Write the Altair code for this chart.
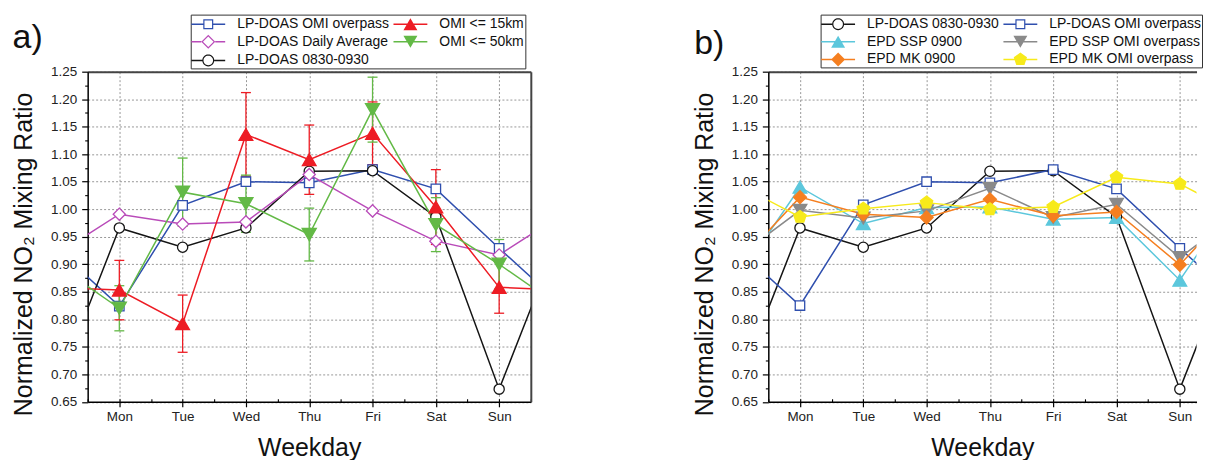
import json
import math
import altair as alt
import pandas as pd

FONT = "Liberation Sans"
NBSP = "\u00a0"

# ---------------- data ----------------
DAYS = ["Mon", "Tue", "Wed", "Thu", "Fri", "Sat", "Sun"]
Y_TICKS = [0.65, 0.70, 0.75, 0.80, 0.85, 0.90, 0.95, 1.00, 1.05, 1.10, 1.15, 1.20, 1.25]
Y_TITLE = "Normalized NO\u2082 Mixing Ratio"
X_TITLE = "Weekday"

# panel a
A_NAMES = ["LP-DOAS OMI overpass", "OMI <= 15km", "LP-DOAS Daily Average",
           "OMI <= 50km", "LP-DOAS 0830-0930"]
a_lp_omi = [0.824, 1.007, 1.050, 1.048, 1.072, 1.037, 0.929]
a_omi15 = [0.853, 0.792, 1.136, 1.090, 1.138, 1.004, 0.858]
a_lp_daily = [0.991, 0.973, 0.977, 1.063, 0.997, 0.942, 0.917]
a_omi50 = [0.820, 1.031, 1.010, 0.954, 1.181, 0.972, 0.900]
a_lp_0830 = [0.966, 0.931, 0.966, 1.069, 1.070, 0.986, 0.673]
a_omi15_err = [0.054, 0.052, 0.076, 0.063, 0.057, 0.068, 0.047]
a_omi50_err = [0.041, 0.062, 0.052, 0.048, 0.059, 0.049, 0.045]

# panel b
B_NAMES = ["LP-DOAS 0830-0930", "LP-DOAS OMI overpass", "EPD SSP 0900",
           "EPD SSP OMI overpass", "EPD MK 0900", "EPD MK OMI overpass"]
b_lp_0830 = [0.966, 0.931, 0.966, 1.069, 1.070, 0.986, 0.673]
b_lp_omi = [0.825, 1.008, 1.050, 1.048, 1.072, 1.037, 0.929]
b_ssp_0900 = [1.040, 0.974, 1.003, 1.004, 0.982, 0.985, 0.871]
b_ssp_omi = [0.998, 0.984, 0.997, 1.038, 0.985, 1.009, 0.912]
b_mk_0900 = [1.022, 0.991, 0.985, 1.018, 0.988, 0.995, 0.899]
b_mk_omi = [0.986, 1.001, 1.012, 1.000, 1.004, 1.058, 1.046]

# ---------------- styles ----------------
BLUE = "#2f4fae"
MAGENTA = "#b94bb9"
BLACK = "#151515"
RED = "#ed1c24"
GREEN = "#63b946"
CYAN = "#5cc7dc"
GRAY = "#8a8a8a"
ORANGE = "#f57f20"
YELLOW = "#f7ea1a"

PENTAGON = "M0,-1L0.951,-0.309L0.588,0.809L-0.588,0.809L-0.951,-0.309Z"

# legend symbols (line stub + marker), drawn as filled paths
S = 9.0
HALF = 17.0
LT = 0.75


def _pt(x, y):
    return f"{x / S:.3f},{y / S:.3f}"


def _poly(points):
    return "M" + "L".join(_pt(x, y) for x, y in points) + "Z"


def _rect(x1, y1, x2, y2):
    return _poly([(x1, y1), (x2, y1), (x2, y2), (x1, y2)])


def _stubs(m):
    return _rect(-HALF, -LT, -m, LT) + _rect(m, -LT, HALF, LT)


def _full():
    return _rect(-HALF, -LT, HALF, LT)


def _ring(outer, inner):
    return _poly(outer) + _poly(list(reversed(inner)))


def _sq(h):
    return [(-h, -h), (h, -h), (h, h), (-h, h)]


def _dia(h):
    return [(0, -h), (h, 0), (0, h), (-h, 0)]


def _circ(r, n=28):
    return [(r * math.cos(2 * math.pi * i / n), r * math.sin(2 * math.pi * i / n)) for i in range(n)]


def _pent(r):
    return [(r * math.cos(math.radians(a)), r * math.sin(math.radians(a))) for a in (-90, -18, 54, 126, 198)]


LEG_OPEN_SQUARE = _stubs(5) + _ring(_sq(5), _sq(3.8))
LEG_OPEN_DIAMOND = _stubs(7) + _ring(_dia(7), _dia(5.3))
LEG_OPEN_CIRCLE = _stubs(6) + _ring(_circ(6), _circ(4.8))
LEG_TRI_UP = _full() + _poly([(0, -6), (7, 6), (-7, 6)])
LEG_TRI_DOWN = _full() + _poly([(-7, -6), (7, -6), (0, 6)])
LEG_DIAMOND = _full() + _poly(_dia(7))
LEG_PENT = _full() + _poly(_pent(7))

STYLE = {
    "LP-DOAS OMI overpass": dict(color=BLUE, fill="white", shape="square", size=90, leg=LEG_OPEN_SQUARE),
    "OMI <= 15km": dict(color=RED, fill=RED, shape="triangle-up", size=190, leg=LEG_TRI_UP),
    "LP-DOAS Daily Average": dict(color=MAGENTA, fill="white", shape="diamond", size=150, leg=LEG_OPEN_DIAMOND),
    "OMI <= 50km": dict(color=GREEN, fill=GREEN, shape="triangle-down", size=200, leg=LEG_TRI_DOWN),
    "LP-DOAS 0830-0930": dict(color=BLACK, fill="white", shape="circle", size=105, leg=LEG_OPEN_CIRCLE),
    "EPD SSP 0900": dict(color=CYAN, fill=CYAN, shape="triangle-up", size=190, leg=LEG_TRI_UP),
    "EPD SSP OMI overpass": dict(color=GRAY, fill=GRAY, shape="triangle-down", size=190, leg=LEG_TRI_DOWN),
    "EPD MK 0900": dict(color=ORANGE, fill=ORANGE, shape="diamond", size=170, leg=LEG_DIAMOND),
    "EPD MK OMI overpass": dict(color=YELLOW, fill=YELLOW, shape=PENTAGON, size=170, leg=LEG_PENT),
}

H = 331.5
PX_PER_DAY = 63.57

X_MINOR = [0.5 + 0.5 * i for i in range(15)]
Y_MINOR = [round(0.675 + 0.05 * i, 3) for i in range(12)]

LABEL_EXPR = json.dumps(DAYS) + "[datum.value - 1]"
YS = alt.Scale(domain=[0.65, 1.25], nice=False, zero=False)


def x_main_axis():
    return alt.Axis(values=[1, 2, 3, 4, 5, 6, 7], labelExpr=LABEL_EXPR, grid=True,
                    gridDash=[2, 2], gridColor="#8c8c8c", gridWidth=0.9,
                    tickSize=5, tickColor="black", tickWidth=1.2,
                    domainColor="black", domainWidth=1.5,
                    labelFont=FONT, labelFontSize=13.5, labelColor="#222", labelPadding=3,
                    labelFlush=False, labelOverlap=False,
                    titleFont=FONT, titleFontSize=25, titleFontWeight="normal", titleColor="#111",
                    titleBaseline="alphabetic", titleY=54, orient="bottom")


def y_main_axis():
    return alt.Axis(values=Y_TICKS, format=".2f", grid=True,
                    gridDash=[2, 2], gridColor="#8c8c8c", gridWidth=0.9,
                    tickSize=6, tickColor="black", tickWidth=1.2,
                    domainColor="black", domainWidth=1.5,
                    labelFont=FONT, labelFontSize=13.5, labelColor="#222", labelPadding=5,
                    labelFlush=False, labelOverlap=False,
                    titleFont=FONT, titleFontSize=25, titleFontWeight="normal", titleColor="#111",
                    titleAngle=270, titleAlign="center", titleBaseline="alphabetic",
                    titleX=-56, titleY=183, orient="left")


def x_minor_axis():
    return alt.Axis(values=X_MINOR, labels=False, grid=False, domain=False, title=None,
                    tickSize=3, tickColor="black", tickWidth=1.1, offset=-3, orient="bottom")


def y_minor_axis():
    return alt.Axis(values=Y_MINOR, labels=False, grid=False, domain=False, title=None,
                    tickSize=3, tickColor="black", tickWidth=1.1, orient="left")


def frame_axis(orient):
    return alt.Axis(orient=orient, labels=False, ticks=False, grid=False, domain=True,
                    domainColor="#444", domainWidth=2, title=None)


def make_panel(names, values, errs, draw_order, x_max, right_frame,
               legend_x, pad_label, pad_n, tag, tag_x, tag_y):
    colors = [STYLE[n]["color"] for n in names]
    fills = [STYLE[n]["fill"] for n in names]
    shapes = [STYLE[n]["shape"] for n in names]
    sizes = [STYLE[n]["size"] for n in names]
    legs = [STYLE[n]["leg"] for n in names]

    xs = alt.Scale(domain=[0.5, x_max], nice=False, zero=False)
    width = round((x_max - 0.5) * PX_PER_DAY, 1)

    line_rows, pt_rows, err_rows, cap_rows = [], [], [], []
    for n in draw_order:
        v = values[n]
        line_rows.append({"series": n, "x": 0, "y": v[6]})
        for i, val in enumerate(v):
            line_rows.append({"series": n, "x": i + 1, "y": val})
            pt_rows.append({"series": n, "x": i + 1, "y": val})
        line_rows.append({"series": n, "x": 8, "y": v[0]})
    for n, e in errs.items():
        v = values[n]
        for i in range(7):
            err_rows.append({"series": n, "x": i + 1, "lo": v[i] - e[i], "hi": v[i] + e[i]})
            cap_rows.append({"series": n, "x": i + 1, "y": v[i] - e[i]})
            cap_rows.append({"series": n, "x": i + 1, "y": v[i] + e[i]})

    line_df = pd.DataFrame(line_rows)
    pt_df = pd.DataFrame(pt_rows)

    def cscale():
        return alt.Scale(domain=names, range=colors)

    lines = alt.Chart(line_df).mark_line(clip=True, strokeWidth=1.5).encode(
        x=alt.X("x:Q", scale=xs, axis=x_main_axis(), title=X_TITLE),
        y=alt.Y("y:Q", scale=YS, axis=y_main_axis(), title=Y_TITLE),
        color=alt.Color("series:N", scale=cscale(), legend=None),
    )
    layers = [lines]

    if err_rows:
        err_df = pd.DataFrame(err_rows)
        cap_df = pd.DataFrame(cap_rows)
        rules = alt.Chart(err_df).mark_rule(strokeWidth=1.3).encode(
            x=alt.X("x:Q", scale=xs, axis=None),
            y=alt.Y("lo:Q", scale=YS, axis=None),
            y2="hi:Q",
            color=alt.Color("series:N", scale=cscale(), legend=None),
        )
        caps = alt.Chart(cap_df).mark_tick(orient="horizontal", size=10, thickness=1.3, opacity=1).encode(
            x=alt.X("x:Q", scale=xs, axis=None),
            y=alt.Y("y:Q", scale=YS, axis=None),
            color=alt.Color("series:N", scale=cscale(), legend=None),
        )
        layers += [rules, caps]

    points = alt.Chart(pt_df).mark_point(opacity=1, strokeWidth=1.3).encode(
        x=alt.X("x:Q", scale=xs, axis=frame_axis("top")),
        y=alt.Y("y:Q", scale=YS, axis=frame_axis("right") if right_frame else None),
        stroke=alt.Stroke("series:N", scale=cscale(), legend=None),
        fill=alt.Fill("series:N", scale=alt.Scale(domain=names, range=fills), legend=None),
        shape=alt.Shape("series:N", scale=alt.Scale(domain=names, range=shapes), legend=None),
        size=alt.Size("series:N", scale=alt.Scale(type="ordinal", domain=names, range=sizes), legend=None),
    )
    layers.append(points)

    label_expr = (f"datum.label == {json.dumps(pad_label)} ? datum.label + '{NBSP * pad_n}' : datum.label")

    def leg():
        return alt.Legend(orient="none", legendX=legend_x, legendY=-57.3, columns=2, direction="horizontal",
                          title=None, symbolSize=S * S * 4, symbolStrokeWidth=0, symbolOffset=8,
                          labelOffset=20, labelFont=FONT, labelFontSize=14, labelColor="#111",
                          labelLimit=600, rowPadding=1.7, columnPadding=3, padding=0.6,
                          strokeColor="#333", fillColor="white", labelExpr=label_expr)

    legend_layer = alt.Chart(pt_df).transform_filter("false").mark_point(
        filled=True, opacity=1, strokeWidth=0).encode(
        x=alt.X("x:Q", scale=xs, axis=x_minor_axis()),
        y=alt.Y("y:Q", scale=YS, axis=y_minor_axis()),
        color=alt.Color("series:N", scale=cscale(), legend=leg()),
        shape=alt.Shape("series:N", scale=alt.Scale(domain=names, range=legs), legend=leg()),
    )
    layers.append(legend_layer)

    tag_layer = alt.Chart(pd.DataFrame({"t": [tag]})).mark_text(
        align="left", baseline="alphabetic", font=FONT, fontSize=34, color="#111").encode(
        text="t:N", x=alt.value(tag_x), y=alt.value(tag_y))
    layers.append(tag_layer)

    return alt.layer(*layers).resolve_scale(
        color="independent", shape="independent", fill="independent",
        stroke="independent", size="independent"
    ).resolve_axis(x="independent", y="independent").properties(width=width, height=H)


panel_a = make_panel(
    A_NAMES,
    {"LP-DOAS OMI overpass": a_lp_omi, "OMI <= 15km": a_omi15, "LP-DOAS Daily Average": a_lp_daily,
     "OMI <= 50km": a_omi50, "LP-DOAS 0830-0930": a_lp_0830},
    {"OMI <= 15km": a_omi15_err, "OMI <= 50km": a_omi50_err},
    ["LP-DOAS OMI overpass", "LP-DOAS 0830-0930", "LP-DOAS Daily Average", "OMI <= 15km", "OMI <= 50km"],
    7.5, True,
    103.5, "OMI <= 15km", 6, "a)", -75.4, -24,
)

panel_b = make_panel(
    B_NAMES,
    {"LP-DOAS 0830-0930": b_lp_0830, "LP-DOAS OMI overpass": b_lp_omi, "EPD SSP 0900": b_ssp_0900,
     "EPD SSP OMI overpass": b_ssp_omi, "EPD MK 0900": b_mk_0900, "EPD MK OMI overpass": b_mk_omi},
    {},
    B_NAMES,
    7.264, False,
    52.5, "LP-DOAS OMI overpass", 3, "b)", -74.5, -18,
)

chart = alt.hconcat(panel_a, panel_b, spacing=160.5).resolve_scale(
    color="independent", shape="independent", fill="independent",
    stroke="independent", size="independent"
).properties(
    padding={"left": 3, "top": 5, "right": 0, "bottom": 0},
    background="white",
).configure_view(stroke=None)

chart.save("out.html", embed_options={"renderer": "svg", "actions": False})
